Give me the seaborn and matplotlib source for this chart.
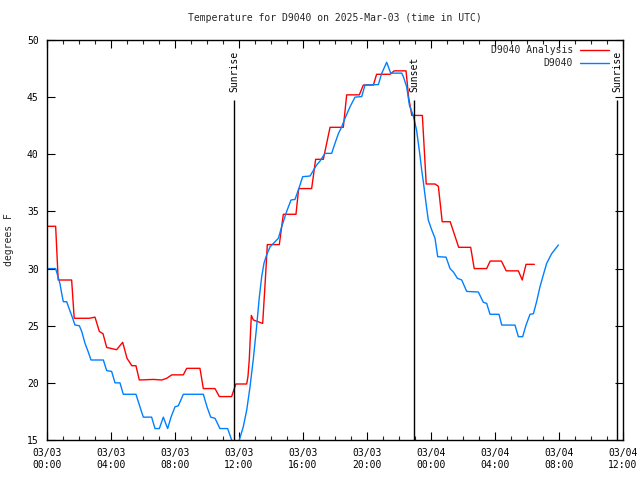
import matplotlib
matplotlib.use("Agg")
import matplotlib.pyplot as plt
import seaborn as sns
import pandas as pd
from matplotlib.ticker import MultipleLocator

# ---- data (hours since 2025-03-03 00:00 UTC, degrees F) ----
analysis_hours = [0.0, 0.54, 0.7, 1.54, 1.7, 2.65, 3.0, 3.27, 3.5, 3.73, 4.35, 4.73, 5.0, 5.3, 5.56,
                  5.77, 6.65, 7.17, 7.48, 7.8, 8.52, 8.73, 9.56, 9.77, 10.5, 10.77, 11.54, 11.8, 12.48,
                  12.56, 12.64, 12.77, 12.9, 13.48, 13.67, 13.77, 14.52, 14.77, 15.56, 15.73, 16.54,
                  16.79, 17.27, 17.69, 18.52, 18.73, 19.52, 19.77, 20.4, 20.6, 21.44, 21.7, 22.44,
                  22.6, 22.8, 23.46, 23.7, 24.25, 24.46, 24.7, 25.2, 25.73, 26.48, 26.7, 27.48, 27.7,
                  28.4, 28.7, 29.46, 29.7, 29.94, 30.46]
analysis_temp = [33.7, 33.7, 29.0, 29.0, 25.65, 25.65, 25.75, 24.5, 24.3, 23.1, 22.9, 23.55, 22.15, 21.5, 21.5,
                 20.25, 20.3, 20.25, 20.4, 20.7, 20.7, 21.27, 21.27, 19.5, 19.5, 18.8, 18.8, 19.9, 19.9,
                 20.55, 22.0, 25.9, 25.5, 25.2, 29.6, 32.1, 32.1, 34.75, 34.75, 37.0, 37.0,
                 39.56, 39.56, 42.36, 42.36, 45.2, 45.2, 46.06, 46.06, 47.0, 47.0, 47.3, 47.3,
                 45.0, 43.4, 43.4, 37.4, 37.4, 37.2, 34.1, 34.1, 31.86, 31.86, 30.0, 30.0, 30.66,
                 30.66, 29.8, 29.8, 29.0, 30.37, 30.37]

obs_hours = [0.0, 0.54, 0.81, 0.92, 1.02, 1.23, 1.33, 1.54, 1.75, 2.02, 2.17, 2.375, 2.58, 2.75, 3.52,
             3.73, 4.04, 4.25, 4.56, 4.77, 5.56, 5.81, 6.02, 6.54, 6.75, 7.02, 7.27, 7.54, 7.75, 8.0,
             8.21, 8.52, 9.77, 10.0, 10.23, 10.5, 10.81, 11.29, 11.54, 11.75, 12.02, 12.27, 12.48,
             12.69, 12.9, 13.1, 13.27, 13.42, 13.56, 13.73, 13.94, 14.15, 14.46, 14.67, 14.98,
             15.25, 15.5, 15.71, 15.98, 16.44, 16.85, 17.06, 17.375, 17.79, 18.0, 18.21, 18.42,
             18.625, 18.94, 19.25, 19.67, 19.875, 20.71, 20.92, 21.23, 21.48, 22.17, 22.27, 22.48,
             22.65, 22.9, 23.1, 23.31, 23.42, 23.52, 23.69, 23.83, 24.04, 24.25, 24.42, 24.94,
             25.19, 25.4, 25.65, 25.92, 26.23, 26.96, 27.27, 27.48, 27.69, 28.25, 28.42, 29.25,
             29.46, 29.73, 29.94, 30.19, 30.4, 30.6, 30.81, 31.02, 31.23, 31.54, 31.96]
obs_temp = [30.0, 30.0, 28.7, 27.8, 27.1, 27.1, 26.7, 25.9, 25.06, 25.0, 24.5, 23.46, 22.7, 22.0, 22.0,
            21.07, 21.0, 20.0, 20.0, 19.0, 19.0, 17.9, 17.0, 17.0, 16.0, 16.0, 17.0, 16.0, 17.0, 17.9,
            18.0, 19.0, 19.0, 17.9, 17.0, 16.9, 16.0, 16.0, 15.0, 14.4, 15.0, 16.17, 17.6,
            19.66, 22.15, 24.9, 27.5, 29.3, 30.46, 31.2, 31.9, 32.2, 32.65, 33.67, 35.0,
            36.0, 36.05, 36.87, 38.04, 38.1, 39.06, 39.4, 40.08, 40.08, 40.96, 41.8, 42.4,
            43.15, 44.16, 45.0, 45.05, 46.06, 46.1, 47.08, 48.05, 47.1, 47.1, 46.8, 45.9,
            44.3, 43.35, 42.1, 39.9, 38.6, 37.6, 35.7, 34.25, 33.4, 32.65, 31.04, 31.0,
            30.0, 29.7, 29.15, 29.0, 28.0, 27.95, 27.05, 26.95, 26.0, 26.0, 25.06, 25.05,
            24.04, 24.04, 25.06, 26.0, 26.05, 27.1, 28.4, 29.44, 30.46, 31.3, 32.06]

sun_events = ["Sunrise", "Sunset", "Sunrise"]
sun_hours = [11.69, 22.94, 35.625]

tick_hours = [0, 4, 8, 12, 16, 20, 24, 28, 32, 36]
tick_labels = ["03/03\n00:00", "03/03\n04:00", "03/03\n08:00", "03/03\n12:00", "03/03\n16:00",
               "03/03\n20:00", "03/04\n00:00", "03/04\n04:00", "03/04\n08:00", "03/04\n12:00"]

series_names = ["D9040 Analysis", "D9040"]
series_colors = ["#ff0000", "#0080ff"]

df = pd.concat([
    pd.DataFrame({"hour": analysis_hours, "temp": analysis_temp, "series": series_names[0]}),
    pd.DataFrame({"hour": obs_hours, "temp": obs_temp, "series": series_names[1]}),
], ignore_index=True)

FS = 7

sns.set_style("ticks")
plt.rcParams["font.family"] = ["DejaVu Sans Mono"]
plt.rcParams["font.size"] = FS

fig = plt.figure(figsize=(6.4, 4.8), dpi=100)
ax = fig.add_axes([47 / 640, 1 - 440 / 480, 576 / 640, 400 / 480])

sns.lineplot(data=df, x="hour", y="temp", hue="series", hue_order=series_names,
             palette=series_colors, linewidth=1.0, sort=False, estimator=None, ax=ax)

for name, h in zip(sun_events, sun_hours):
    ax.vlines(h, 15, 44.75, color="black", linewidth=1.0)
    ax.text(h, 45.45, name, rotation=90, ha="center", va="bottom", fontsize=FS, color="black")

ax.set_xlim(0, 36)
ax.set_ylim(15, 50)
ax.set_xticks(tick_hours)
ax.set_xticklabels(tick_labels, linespacing=1.25)
ax.xaxis.set_minor_locator(MultipleLocator(1))
ax.yaxis.set_major_locator(MultipleLocator(5))
ax.tick_params(axis="both", which="major", direction="in", length=6, width=0.8,
               top=True, right=True, labelsize=FS, colors="black")
ax.tick_params(axis="x", which="minor", direction="in", length=3, width=0.8, top=True)
ax.tick_params(axis="x", which="major", pad=6)
ax.tick_params(axis="y", which="major", pad=6)
for s in ax.spines.values():
    s.set_visible(True)
    s.set_linewidth(1.0)
    s.set_color("black")

ax.set_xlabel("")
ax.set_ylabel("degrees F", fontsize=FS, labelpad=9)
ax.set_title("Temperature for D9040 on 2025-Mar-03 (time in UTC)", fontsize=FS, pad=14)

leg = ax.legend(loc="upper right", frameon=False, markerfirst=False, fontsize=FS,
                handlelength=2.9, handletextpad=0.75, labelspacing=0.3,
                borderpad=0, borderaxespad=0,
                bbox_to_anchor=((608.5 - 47) / 576, (440 - 45) / 400))
for t in leg.get_texts():
    t.set_ha("right")

fig.savefig("out.png", dpi=100)
